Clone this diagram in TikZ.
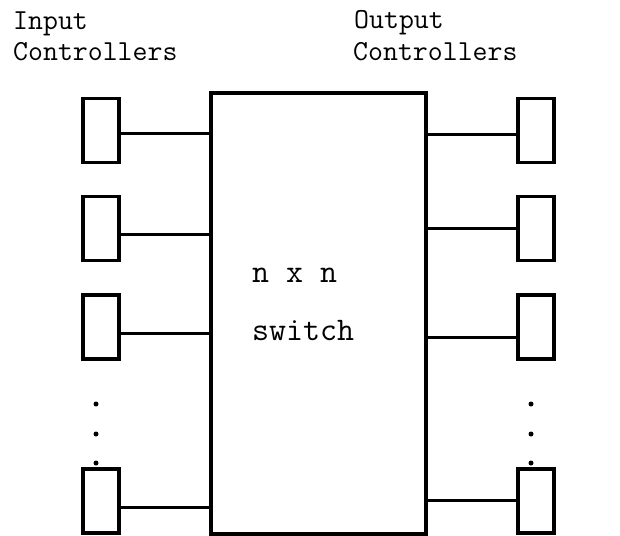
\documentclass[tikz,border=0pt]{standalone}
\begin{document}
\begin{tikzpicture}[x=1pt,y=-1pt,
  ctrl/.style={draw,line width=3.2pt,minimum width=36pt,minimum height=64pt,inner sep=0pt},
  conn/.style={line width=3pt},
  lbl/.style={anchor=base west,inner sep=0pt,font=\ttfamily\fontsize{29}{34}\selectfont},
  mid/.style={anchor=base west,inner sep=0pt,font=\ttfamily\fontsize{33}{38}\selectfont},
  dot/.style={circle,fill,inner sep=0pt,minimum size=5pt}]
\useasboundingbox (0,0) rectangle (620,535);
\node[lbl] (inA) at (13,30) {Input};
\node[lbl] (inB) at (13,60) {Controllers};
\node[lbl] (outA) at (354,29) {Output};
\node[lbl] (outB) at (353,60) {Controllers};
\node[draw,line width=3.2pt,minimum width=215pt,minimum height=441pt,inner sep=0pt] (sw) at (318.5,313.5) {};
\node[mid] (t1) at (252,282) {n x n};
\node[mid] (t2) at (252,340) {switch};
% left controllers
\node[ctrl] (l1) at (101,130.5) {};
\node[ctrl] (l2) at (101,228.5) {};
\node[ctrl] (l3) at (101,327) {};
\node[ctrl] (l4) at (101,501) {};
% right controllers
\node[ctrl] (r1) at (536,130.5) {};
\node[ctrl] (r2) at (536,228.5) {};
\node[ctrl] (r3) at (536,327) {};
\node[ctrl] (r4) at (536,501) {};
% connectors
\draw[conn] ([yshift=-2.5pt]l1.east) -- ([yshift=-2.5pt]l1.east -| sw.west);
\draw[conn] ([yshift=-5.5pt]l2.east) -- ([yshift=-5.5pt]l2.east -| sw.west);
\draw[conn] ([yshift=-6pt]l3.east) -- ([yshift=-6pt]l3.east -| sw.west);
\draw[conn] ([yshift=-6pt]l4.east) -- ([yshift=-6pt]l4.east -| sw.west);
\draw[conn] ([yshift=-3.5pt]r1.west) -- ([yshift=-3.5pt]r1.west -| sw.east);
\draw[conn] (r2.west) -- (r2.west -| sw.east);
\draw[conn] ([yshift=-10pt]r3.west) -- ([yshift=-10pt]r3.west -| sw.east);
\draw[conn] ([yshift=1pt]r4.west) -- ([yshift=1pt]r4.west -| sw.east);
% dots
\node[dot] (ld1) at (96,404) {};
\node[dot] (ld2) at (96,434) {};
\node[dot] (ld3) at (96,463) {};
\node[dot] (rd1) at (531,404) {};
\node[dot] (rd2) at (531,434) {};
\node[dot] (rd3) at (531,463) {};
\end{tikzpicture}
\end{document}
